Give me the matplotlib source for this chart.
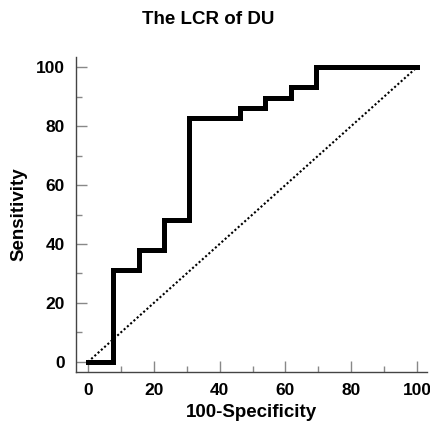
import matplotlib
matplotlib.use("Agg")
import matplotlib.pyplot as plt
from matplotlib.ticker import MultipleLocator

plt.rcParams['font.family'] = ['Liberation Sans', 'DejaVu Sans']

fpr = [0, 7.69, 7.69, 15.38, 15.38, 23.08, 23.08, 30.77, 30.77, 46.15, 46.15, 53.85, 53.85, 61.54, 61.54, 69.23, 69.23, 100]
tpr = [0, 0, 31.03, 31.03, 37.93, 37.93, 48.28, 48.28, 82.76, 82.76, 86.21, 86.21, 89.66, 89.66, 93.10, 93.10, 100, 100]
diag = [0, 100]

fig = plt.figure(figsize=(4.30, 4.29), dpi=100)
ax = fig.add_axes([0.177, 0.133, 0.816, 0.734])
ax.plot(fpr, tpr, color='black', linewidth=3.6, solid_joinstyle='miter', zorder=3)
ax.plot(diag, diag, color='black', linestyle=(0, (1, 1.1)), linewidth=1.5, zorder=2)

ax.set_xlim(-3.6, 103)
ax.set_ylim(-3.4, 103.4)
for s in ['top', 'right']:
    ax.spines[s].set_visible(False)
for s in ['left', 'bottom']:
    ax.spines[s].set_color('#444444')
    ax.spines[s].set_linewidth(1.0)

ax.xaxis.set_major_locator(MultipleLocator(20))
ax.xaxis.set_minor_locator(MultipleLocator(10))
ax.yaxis.set_major_locator(MultipleLocator(20))
ax.yaxis.set_minor_locator(MultipleLocator(10))
ax.tick_params(which='major', direction='in', length=8, width=1, color='#888888', pad=8, labelsize=12.5)
ax.tick_params(which='minor', direction='in', length=4.5, width=1, color='#888888')
for lab in ax.get_xticklabels() + ax.get_yticklabels():
    lab.set_fontweight('bold')

ax.set_xlabel('100-Specificity', fontsize=13.5, fontweight='bold', labelpad=4)
ax.set_ylabel('Sensitivity', fontsize=13.5, fontweight='bold', labelpad=6)
fig.suptitle('The LCR of DU', fontsize=13.5, fontweight='bold', x=0.485, y=0.975)

fig.savefig('out.png', dpi=100)
